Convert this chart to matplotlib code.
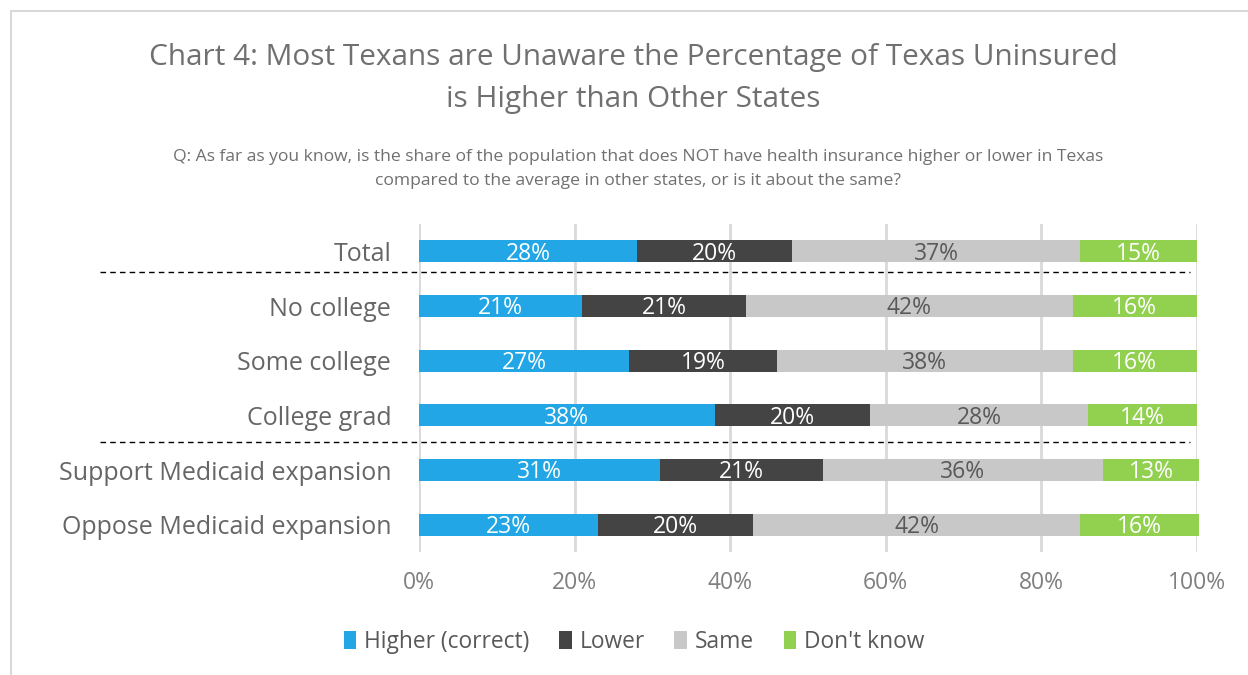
import matplotlib
matplotlib.use("Agg")
import matplotlib.pyplot as plt
from matplotlib.patches import Rectangle
from matplotlib.lines import Line2D
import matplotlib.transforms as mtransforms
import numpy as np

plt.rcParams['font.family'] = ['Open Sans', 'DejaVu Sans']

categories = ["Total", "No college", "Some college", "College grad",
              "Support Medicaid expansion", "Oppose Medicaid expansion"]
series_names = ["Higher (correct)", "Lower", "Same", "Don't know"]
# segment lengths (unrounded where visible)
higher = [28, 21, 27, 38, 31, 23]
lower = [20, 21, 19, 20, 20.9, 19.9]
same = [37, 42, 38, 28, 36, 42.1]
dont_know = [15, 16, 16, 14, 12.4, 15.3]
# labels printed on the bars
higher_lbl = [28, 21, 27, 38, 31, 23]
lower_lbl = [20, 21, 19, 20, 21, 20]
same_lbl = [37, 42, 38, 28, 36, 42]
dont_know_lbl = [15, 16, 16, 14, 13, 16]
series = [higher, lower, same, dont_know]
labels = [higher_lbl, lower_lbl, same_lbl, dont_know_lbl]
colors = ["#22A6E6", "#444444", "#C8C8C8", "#92D050"]
label_colors = ["white", "white", "#595959", "white"]
x_ticks = [0, 20, 40, 60, 80, 100]
separators_after = [0, 3]  # dashed line after these rows

fig = plt.figure(figsize=(12.48, 6.75), dpi=100)
W, H = 1248, 675

# outer frame
fig.patches.append(Rectangle((11 / W, -0.1), 1.2, 1 - 11 / H + 0.1,
                             transform=fig.transFigure, fill=False,
                             edgecolor="#D9D9D9", linewidth=1.5))

ax = fig.add_axes([419 / W, 1 - 552 / H, (1197 - 419) / W, (552 - 224) / H])

y = np.arange(len(categories))
left = np.zeros(len(categories))
for vals, lbls, name, col, lc in zip(series, labels, series_names, colors, label_colors):
    bars = ax.barh(y, vals, left=left, height=0.4, color=col, label=name,
                   zorder=3, clip_on=False)
    for b, v in zip(bars, lbls):
        ax.text(b.get_x() + b.get_width() / 2, b.get_y() + b.get_height() / 2 + 0.04,
                f"{v}%", ha="center", va="center", color=lc, fontsize=16.5, zorder=4)
    left += np.array(vals)

ax.set_ylim(5.5, -0.5)
ax.set_xlim(0, 100)
ax.set_xticks(x_ticks)
ax.set_xticklabels([f"{t}%" for t in x_ticks])
ax.set_yticks(y)
ax.set_yticklabels(categories)
ax.tick_params(axis="x", length=0, pad=14, labelsize=16.5, labelcolor="#7F7F7F")
ax.tick_params(axis="y", length=0, pad=20, labelsize=18, labelcolor="#666666")
ax.grid(axis="x", color="#D9D9D9", linewidth=2, zorder=0)
for s in ax.spines.values():
    s.set_visible(False)

# dashed separators
trans = mtransforms.blended_transform_factory(fig.transFigure, ax.transData)
for r, off in zip(separators_after, [0.38, 0.49]):
    fig.lines.append(Line2D([100 / W, 1190 / W], [r + off, r + off], transform=trans,
                            color="black", linestyle=(0, (4, 3)), linewidth=1))

fig.text(633 / W, 1 - 58 / H, "Chart 4: Most Texans are Unaware the Percentage of Texas Uninsured",
         ha="center", va="center", fontsize=21.4, color="#707070")
fig.text(633 / W, 1 - 100 / H, "is Higher than Other States",
         ha="center", va="center", fontsize=21.4, color="#707070")
fig.text(638 / W, 1 - 157 / H,
         "Q: As far as you know, is the share of the population that does NOT have health insurance higher or lower in Texas",
         ha="center", va="center", fontsize=12.6, color="#707070")
fig.text(638 / W, 1 - 181 / H,
         "compared to the average in other states, or is it about the same?",
         ha="center", va="center", fontsize=12.6, color="#707070")

leg = fig.legend(loc="center", bbox_to_anchor=(634 / W, 1 - 642 / H), ncol=4,
                 frameon=False, fontsize=16.4, handlelength=0.55, handleheight=0.8,
                 handletextpad=0.35, columnspacing=1.3)
for t in leg.get_texts():
    t.set_color("#595959")

fig.savefig("out.png", dpi=100)
